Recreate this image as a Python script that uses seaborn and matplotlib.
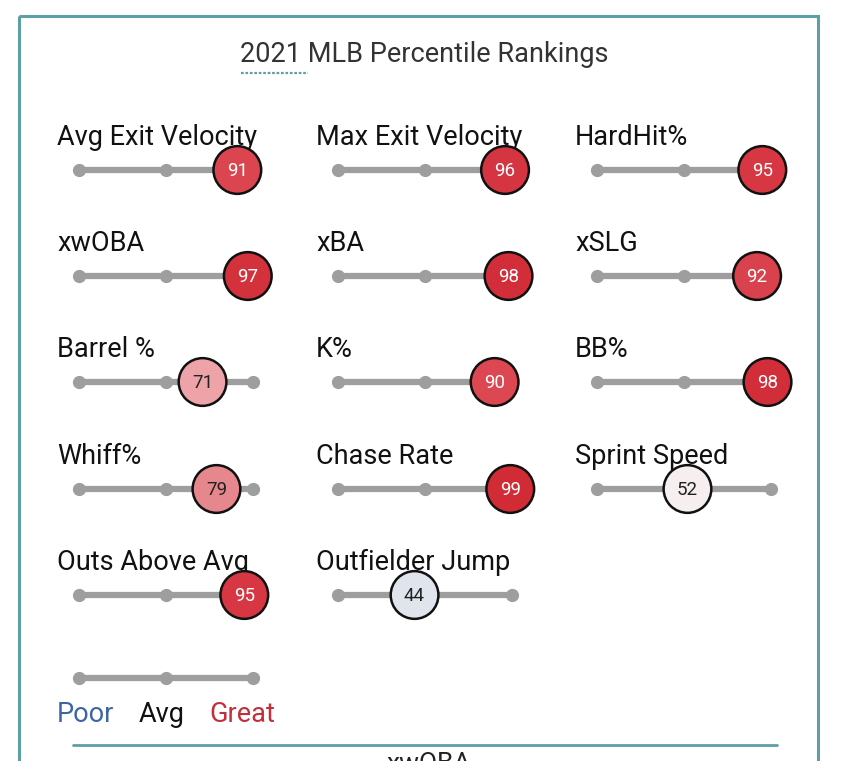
import numpy as np
import pandas as pd
import matplotlib
matplotlib.use("Agg")
import matplotlib.pyplot as plt
from matplotlib.colors import LinearSegmentedColormap, to_hex
from matplotlib.patches import Rectangle
import seaborn as sns

# ---------------- data ----------------
metrics = ["Avg Exit Velocity", "Max Exit Velocity", "HardHit%",
           "xwOBA", "xBA", "xSLG",
           "Barrel %", "K%", "BB%",
           "Whiff%", "Chase Rate", "Sprint Speed",
           "Outs Above Avg", "Outfielder Jump"]
percentiles = [91, 96, 95, 97, 98, 92, 71, 90, 98, 79, 99, 52, 95, 44]
title = "2021 MLB Percentile Rankings"
legend_labels = ["Poor", "Avg", "Great"]
next_section = "xwOBA"

# ---------------- style ----------------
sns.set_theme(style="white")
plt.rcParams["font.family"] = ["Roboto", "DejaVu Sans"]

TEAL = "#5f9ea6"
TRACK = "#9e9e9e"
cmap = LinearSegmentedColormap.from_list(
    "savant", [(0.0, "#325aa5"), (0.5, "#f7f7f7"), (0.7, "#eea6aa"),
               (0.8, "#e5838a"), (0.9, "#dc4852"), (1.0, "#d02834")])

W, H = 850, 761
fig = plt.figure(figsize=(W / 100, H / 100), dpi=100)
ax = fig.add_axes([0, 0, 1, 1])
ax.set_xlim(0, W)
ax.set_ylim(H, 0)
ax.axis("off")

# frame
ax.add_patch(Rectangle((19, 16), 799, 800, fill=False, edgecolor=TEAL,
                       linewidth=2.2, clip_on=True))

# title
ax.text(424, 54, title, ha="center", va="center", fontsize=19.5, color="#333333")
ax.plot([241, 308], [73, 73], color=TEAL, linewidth=1.6, linestyle=(0, (1.2, 0.8)))

col_x = [79, 338, 597]
row_y = [170, 276, 382, 489, 595]
track_len = 174

def draw_track(x0, y):
    ax.plot([x0, x0 + track_len], [y, y], color=TRACK, linewidth=4.5,
            solid_capstyle="round", zorder=1)
    ax.plot([x0, x0 + track_len / 2, x0 + track_len], [y, y, y], "o",
            color=TRACK, markersize=8.5, zorder=1)

rows = []
for i, (m, p) in enumerate(zip(metrics, percentiles)):
    c, r = i % 3, i // 3
    x0, y = col_x[c], row_y[r]
    draw_track(x0, y)
    ax.text(x0 - 22, y - 25, m, ha="left", va="baseline", fontsize=19.5,
            color="#111111")
    rows.append({"metric": m, "pct": p, "x": x0 + p / 100 * track_len, "y": y})

df = pd.DataFrame(rows)
palette = {m: to_hex(cmap(p / 100)) for m, p in zip(metrics, percentiles)}
sns.scatterplot(data=df, x="x", y="y", hue="metric", palette=palette, s=1180,
                edgecolor="#111111", linewidth=1.8, legend=False, ax=ax, zorder=3)
for _, row in df.iterrows():
    tc = "white" if row["pct"] >= 85 else "#222222"
    ax.text(row["x"], row["y"] + 1, str(row["pct"]), ha="center", va="center",
            fontsize=13.5, color=tc, zorder=4)

# legend
draw_track(col_x[0], 678)
leg_colors = ["#3d64a3", "#111111", "#c1303b"]
leg_x = [57, 139, 209]
for lx, lab, lc in zip(leg_x, legend_labels, leg_colors):
    ax.text(lx, 722, lab, ha="left", va="baseline", fontsize=19.5, color=lc)

# bottom separator and next section heading (cut off)
ax.plot([73, 777], [745, 745], color=TEAL, linewidth=2)
ax.text(429, 752, next_section, ha="center", va="top", fontsize=19, color="#222222")

fig.savefig("out.png", dpi=100)
